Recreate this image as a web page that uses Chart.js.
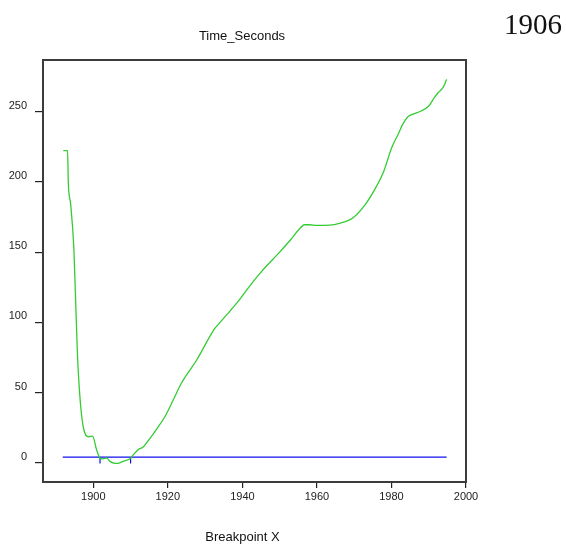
<!DOCTYPE html>
<html lang="en">
<head>
    <meta charset="UTF-8">
    <title>Time_Seconds by Breakpoint X</title>
    <script src="https://cdn.jsdelivr.net/npm/chart.js"></script>
    <style>
        html, body { margin: 0; padding: 0; background: #fff; }
        #wrap { position: relative; width: 566px; height: 547px; }
    </style>
</head>
<body>
    <div id="wrap">
        <canvas id="breakChart" width="566" height="547"></canvas>
    </div>

    <script>
        // Fitted time (seconds) against breakpoint year
        const breakYears = [1891.95, 1893.1, 1893.3, 1893.9, 1894.8, 1895.7, 1896.4, 1897.3, 1898.7, 1899.8,
            1900.9, 1901.8, 1902.5, 1903.6, 1904.5, 1905.5, 1906.5, 1908, 1909.9, 1911,
            1912.1, 1913.3, 1914.8, 1917, 1919.2, 1921.5, 1923.7, 1927.7, 1932.6, 1933.2,
            1936, 1939.3, 1942, 1945, 1950, 1953, 1955, 1956.7, 1958, 1960,
            1963.5, 1966, 1969.7, 1973, 1976, 1978, 1980, 1982, 1983, 1984.5,
            1986, 1988, 1990, 1991.5, 1992.5, 1993.5, 1994.2, 1994.8];
        const timeSeconds = [222.2, 222.2, 199, 184.7, 151.5, 80, 47, 25.6, 18.5, 19,
            9, 3.3, 2.8, 3.3, 1, -0.3, -0.5, 1, 3.1, 6.5,
            9.5, 11, 16, 24, 32.8, 45, 57, 73, 95.7, 97.5,
            106, 116.4, 126, 135.8, 150, 159, 165.6, 169.5, 169.5, 169,
            169.2, 170.5, 174.5, 184, 197, 208, 224, 235, 241, 246.5,
            248.5, 250.5, 254, 260, 263.5, 266, 269, 273];

        // Threshold level and the interval it cuts out
        const thresholdLevel = 4;
        const thresholdSpan = [1891.8, 1994.8];
        const intervalEnds = [1901.8, 1910];
        const intervalTickLow = -0.5;

        const xTicks = [1900, 1920, 1940, 1960, 1980, 2000];
        const yTicks = [0, 50, 100, 150, 200, 250];

        const chartTitle = 'Time_Seconds';
        const xTitle = 'Breakpoint X';
        const cornerLabel = '1906';

        const green = '#33cc33';
        const blue = '#1010ee';

        const datasets = [{
            label: chartTitle,
            data: breakYears.map((x, i) => ({ x, y: timeSeconds[i] })),
            borderColor: green,
            borderWidth: 1.3,
            pointRadius: 0,
            cubicInterpolationMode: 'monotone'
        }, {
            label: 'threshold',
            data: thresholdSpan.map(x => ({ x, y: thresholdLevel })),
            borderColor: blue,
            borderWidth: 1.2,
            pointRadius: 0
        }];
        intervalEnds.forEach(x => {
            datasets.push({
                label: 'interval',
                data: [{ x, y: thresholdLevel }, { x, y: intervalTickLow }],
                borderColor: blue,
                borderWidth: 1.2,
                pointRadius: 0
            });
        });

        // Box round the plot plus the free-standing texts
        const decorations = {
            id: 'decorations',
            afterDraw(chart) {
                const { ctx, chartArea } = chart;
                ctx.save();
                ctx.strokeStyle = '#3c3c3c';
                ctx.lineWidth = 2;
                ctx.strokeRect(chartArea.left, chartArea.top,
                    chartArea.right - chartArea.left, chartArea.bottom - chartArea.top);

                ctx.fillStyle = '#111';
                ctx.textAlign = 'center';
                ctx.textBaseline = 'middle';
                ctx.font = '13px "Liberation Sans", Arial, sans-serif';
                ctx.fillText(chartTitle, 242, 36);
                ctx.fillText(xTitle, 242.5, 537);

                ctx.font = '29px "Liberation Serif", "Times New Roman", serif';
                ctx.textAlign = 'right';
                ctx.textBaseline = 'alphabetic';
                ctx.fillText(cornerLabel, 562, 34);
                ctx.restore();
            }
        };

        const tickFont = { family: '"Liberation Sans", Arial, sans-serif', size: 11 };

        new Chart(document.getElementById('breakChart'), {
            type: 'line',
            data: { datasets },
            options: {
                responsive: false,
                animation: false,
                events: [],
                layout: { padding: { top: 60, right: 100, left: 0, bottom: 0 } },
                plugins: {
                    legend: { display: false },
                    title: { display: false },
                    tooltip: { enabled: false }
                },
                scales: {
                    x: {
                        type: 'linear',
                        min: 1886.5,
                        max: 2000,
                        afterBuildTicks: s => { s.ticks = xTicks.map(value => ({ value })); },
                        afterFit: s => { s.height = 65; },
                        border: { display: false },
                        grid: { drawOnChartArea: false, tickLength: 6, color: '#222', lineWidth: 1.2 },
                        ticks: {
                            autoSkip: false,
                            maxRotation: 0,
                            padding: 2,
                            color: '#222',
                            font: tickFont,
                            callback: v => String(v)
                        }
                    },
                    y: {
                        min: -13.7,
                        max: 286.8,
                        afterBuildTicks: s => { s.ticks = yTicks.map(value => ({ value })); },
                        afterFit: s => { s.width = 43; },
                        border: { display: false },
                        grid: { drawOnChartArea: false, tickLength: 8, color: '#222', lineWidth: 1.2 },
                        ticks: {
                            autoSkip: false,
                            padding: 8,
                            labelOffset: -6,
                            color: '#222',
                            font: tickFont,
                            callback: v => String(v)
                        }
                    }
                }
            },
            plugins: [decorations]
        });
    </script>
</body>
</html>
